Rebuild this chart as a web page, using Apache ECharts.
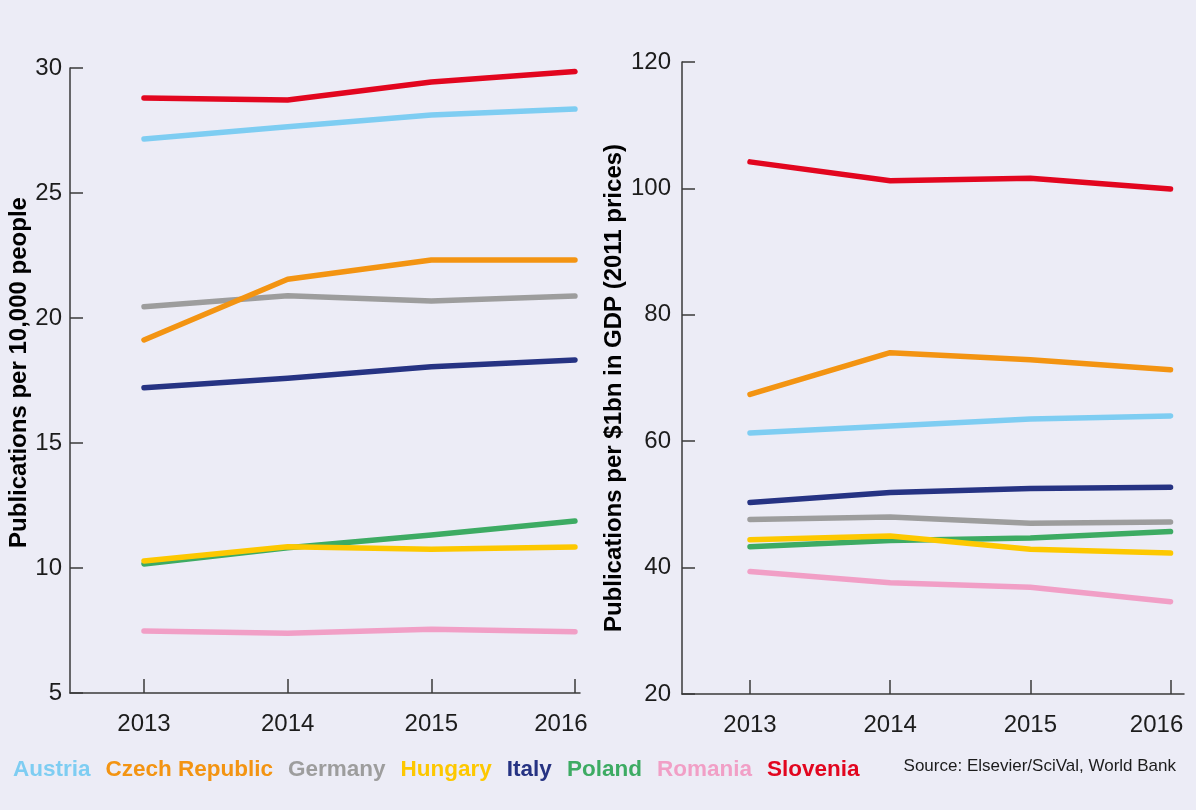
<!DOCTYPE html>
<html>
<head>
<meta charset="utf-8">
<script src="https://cdn.jsdelivr.net/npm/echarts@6/dist/echarts.min.js"></script>
<style>
html,body{margin:0;padding:0;background:#ececf6;}
#chart{width:1196px;height:810px;}
</style>
</head>
<body>
<div id="chart"></div>
<script>
// ---- data ----
const years = [2013, 2014, 2015, 2016];
const countries = ['Austria', 'Czech Republic', 'Germany', 'Hungary', 'Italy', 'Poland', 'Romania', 'Slovenia'];

// Publications per 10,000 people
const austriaPeople  = [27.16, 27.65, 28.12, 28.36];
const czechPeople    = [19.12, 21.55, 22.32, 22.32];
const germanyPeople  = [20.45, 20.89, 20.68, 20.88];
const hungaryPeople  = [10.28, 10.85, 10.75, 10.84];
const italyPeople    = [17.21, 17.59, 18.05, 18.32];
const polandPeople   = [10.16, 10.81, 11.32, 11.88];
const romaniaPeople  = [7.48, 7.39, 7.55, 7.45];
const sloveniaPeople = [28.80, 28.72, 29.44, 29.86];

// Publications per $1bn in GDP (2011 prices)
const austriaGdp  = [61.3, 62.4, 63.5, 64.0];
const czechGdp    = [67.4, 74.0, 72.9, 71.3];
const germanyGdp  = [47.6, 48.0, 47.0, 47.2];
const hungaryGdp  = [44.4, 45.0, 42.9, 42.3];
const italyGdp    = [50.3, 51.9, 52.5, 52.7];
const polandGdp   = [43.3, 44.3, 44.7, 45.7];
const romaniaGdp  = [39.4, 37.6, 36.9, 34.6];
const sloveniaGdp = [104.2, 101.2, 101.6, 99.9];

const leftTicks = [5, 10, 15, 20, 25, 30];
const rightTicks = [20, 40, 60, 80, 100, 120];
const leftAxisName = 'Publications per 10,000 people';
const rightAxisName = 'Publications per $1bn in GDP (2011 prices)';
const sourceText = 'Source: Elsevier/SciVal, World Bank';

// ---- styling ----
const colors = {
  'Austria': '#7ecdf2',
  'Czech Republic': '#f39412',
  'Germany': '#9d9d9d',
  'Hungary': '#fdc800',
  'Italy': '#263383',
  'Poland': '#3dab63',
  'Romania': '#f19fc6',
  'Slovenia': '#e2061f'
};
const zOrder = {
  'Romania': 2, 'Germany': 3, 'Poland': 4, 'Hungary': 5,
  'Italy': 6, 'Czech Republic': 7, 'Austria': 8, 'Slovenia': 9
};
const peopleData = [austriaPeople, czechPeople, germanyPeople, hungaryPeople, italyPeople, polandPeople, romaniaPeople, sloveniaPeople];
const gdpData = [austriaGdp, czechGdp, germanyGdp, hungaryGdp, italyGdp, polandGdp, romaniaGdp, sloveniaGdp];

const font = '"Liberation Sans", Arial, sans-serif';
const axisColor = '#3a3a3a';
const textColor = '#1c1c1c';
const lastYear = years[years.length - 1];

function xAxis(gridIndex, min, max) {
  return {
    type: 'value', gridIndex, min, max,
    axisLine: { show: true, onZero: false, lineStyle: { color: axisColor, width: 1.5 } },
    axisTick: { show: true, inside: true, length: 14, customValues: years, lineStyle: { color: axisColor, width: 1.5 } },
    axisLabel: {
      customValues: years,
      formatter: v => (v === lastYear ? '{last|' + v + '}' : String(v)),
      rich: { last: { padding: [0, 28, 0, 0], fontFamily: font, fontSize: 24, color: textColor } },
      margin: 19, color: textColor, fontFamily: font, fontSize: 24
    },
    splitLine: { show: false }
  };
}
function yAxis(gridIndex, min, max, interval, name, nameGap, ticks, namePad, labelMargin) {
  return {
    type: 'value', gridIndex, min, max, interval,
    name, nameLocation: 'middle', nameGap, nameRotate: 90,
    nameTextStyle: { fontFamily: font, fontWeight: 'bold', fontSize: 24, color: '#000', padding: namePad },
    axisLine: { show: true, onZero: false, lineStyle: { color: axisColor, width: 1.5 } },
    axisTick: { show: true, inside: true, length: 13, lineStyle: { color: axisColor, width: 1.5 } },
    axisLabel: { margin: labelMargin, color: textColor, fontFamily: font, fontSize: 24, customValues: ticks },
    splitLine: { show: false }
  };
}

const series = [];
countries.forEach((c, i) => {
  [[0, peopleData[i]], [1, gdpData[i]]].forEach(([g, vals]) => {
    series.push({
      name: c, type: 'line', xAxisIndex: g, yAxisIndex: g,
      data: years.map((y, k) => [y, vals[k]]),
      showSymbol: false, symbol: 'none', smooth: false,
      z: zOrder[c],
      lineStyle: { color: colors[c], width: 5.5, cap: 'round', join: 'round' },
      itemStyle: { color: colors[c] },
      emphasis: { disabled: true }
    });
  });
});

const chart = echarts.init(document.getElementById('chart'), null, { renderer: 'canvas' });
chart.setOption({
  backgroundColor: '#ececf6',
  animation: false,
  grid: [
    { left: 70, top: 68, width: 510, height: 625, outerBoundsMode: 'none', containLabel: false },
    { left: 682, top: 62, width: 502, height: 632, outerBoundsMode: 'none', containLabel: false }
  ],
  xAxis: [xAxis(0, 2012.485, 2016.035), xAxis(1, 2012.515, 2016.096)],
  yAxis: [
    yAxis(0, 5, 30, 5, leftAxisName, 39, leftTicks, [0, 0, 0, 16], 8),
    yAxis(1, 20, 120, 20, rightAxisName, 56, rightTicks, [0, 20, 0, 0], 11)
  ],
  legend: {
    left: 8, top: 753, itemGap: 15, itemWidth: 0, itemHeight: 0, icon: 'none',
    selectedMode: false,
    data: countries.map(c => ({ name: c, textStyle: { color: colors[c] } })),
    textStyle: { fontFamily: font, fontWeight: 'bold', fontSize: 22.5, padding: [0, 0, 0, -5] }
  },
  graphic: [{
    type: 'text', right: 20, top: 758,
    style: { text: sourceText, fill: textColor, font: '17px ' + font }
  }],
  series
});
</script>
</body>
</html>
